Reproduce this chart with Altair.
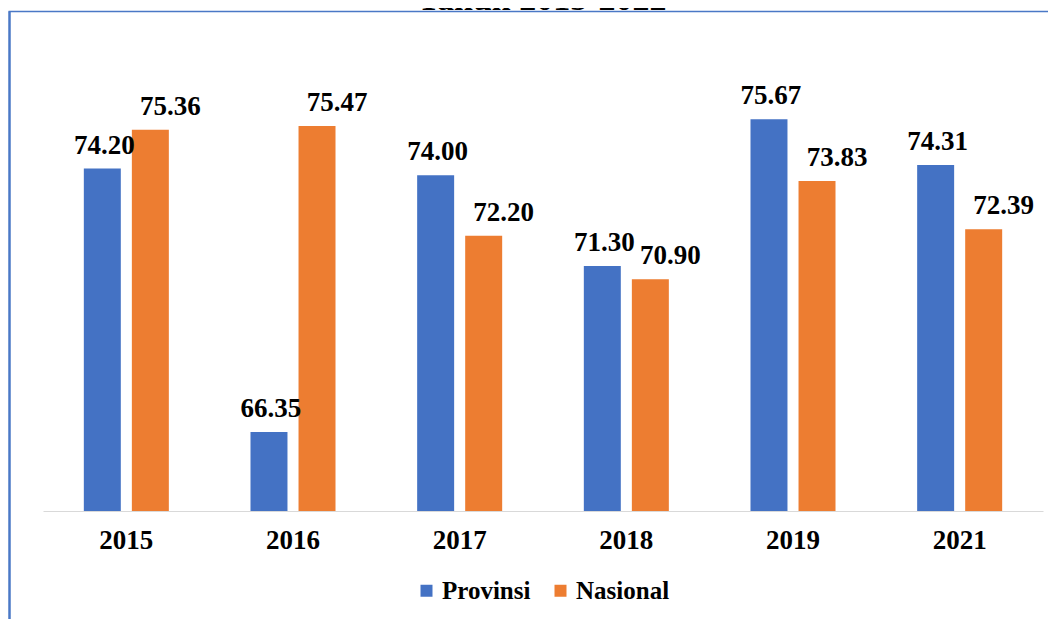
import altair as alt
import pandas as pd

years = ["2015", "2016", "2017", "2018", "2019", "2021"]
provinsi = [74.20, 66.35, 74.00, 71.30, 75.67, 74.31]
nasional = [75.36, 75.47, 72.20, 70.90, 73.83, 72.39]
series = ["Provinsi", "Nasional"]
colors = ["#4472C4", "#ED7D31"]
title_text = ["Tahun 2015-2022"]
y_floor = 64

rows = []
for i, y in enumerate(years):
    rows.append({"Tahun": y, "Seri": "Provinsi", "Nilai": provinsi[i]})
    rows.append({"Tahun": y, "Seri": "Nasional", "Nilai": nasional[i]})
df = pd.DataFrame(rows)

FONT = "Liberation Serif"

base = alt.Chart(df).encode(
    x=alt.X(
        "Tahun:N",
        sort=years,
        scale=alt.Scale(paddingInner=0, paddingOuter=0),
        axis=alt.Axis(
            title=None,
            labelAngle=0,
            ticks=False,
            domainColor="#d9d9d9",
            domainWidth=1,
            labelFont=FONT,
            labelFontWeight="bold",
            labelFontSize=27,
            labelColor="black",
            labelPadding=16,
        ),
    ),
    xOffset=alt.XOffset(
        "Seri:N", sort=series, scale=alt.Scale(paddingInner=0.23, paddingOuter=0.85)
    ),
    y=alt.Y(
        "Nilai:Q",
        scale=alt.Scale(domain=[64, 78], nice=False, zero=False, clamp=True),
        axis=None,
    ),
)

bars = base.mark_bar().encode(
    y2=alt.datum(y_floor),
    color=alt.Color(
        "Seri:N",
        sort=series,
        scale=alt.Scale(domain=series, range=colors),
        legend=alt.Legend(
            title=None,
            orient="none",
            legendX=371,
            legendY=537,
            direction="horizontal",
            symbolType="square",
            symbolSize=144,
            symbolStrokeWidth=0,
            labelFont=FONT,
            labelFontWeight="bold",
            labelFontSize=25,
            labelColor="black",
            columnPadding=17,
            labelOffset=3,
            padding=0,
        ),
    ),
)

label_common = dict(
    font=FONT, fontSize=27, fontWeight="bold", baseline="alphabetic", dy=-15, color="black"
)

labels_p = (
    base.mark_text(dx=2, **label_common)
    .encode(text=alt.Text("Nilai:Q", format=".2f"))
    .transform_filter(alt.datum.Seri == "Provinsi")
)
labels_n = (
    base.mark_text(dx=20, **label_common)
    .encode(text=alt.Text("Nilai:Q", format=".2f"))
    .transform_filter(alt.datum.Seri == "Nasional")
)

one = pd.DataFrame({"t": title_text})
left_border = alt.Chart(one).mark_rule(color="#4a78c6", strokeWidth=2.5).encode(
    x=alt.value(-33.5), y=alt.value(-29.5), y2=alt.value(700)
)
top_border = alt.Chart(one).mark_rule(color="#4a78c6", strokeWidth=1.5).encode(
    x=alt.value(-34.5), x2=alt.value(1100), y=alt.value(-29.5)
)
title = alt.Chart(one).mark_text(
    font=FONT, fontSize=34, fontWeight="bold", color="black", baseline="alphabetic"
).encode(text="t:N", x=alt.value(499), y=alt.value(-31))

chart = (
    alt.layer(bars, labels_p, labels_n, left_border, top_border, title)
    .properties(
        width=1000,
        height=470,
        autosize=alt.AutoSizeParams(type="none"),
        padding={"left": 35, "top": 33, "right": 5, "bottom": 108},
        background="white",
    )
    .configure_view(strokeWidth=0)
)

chart.save("out.html", embed_options={"renderer": "svg", "actions": False})
